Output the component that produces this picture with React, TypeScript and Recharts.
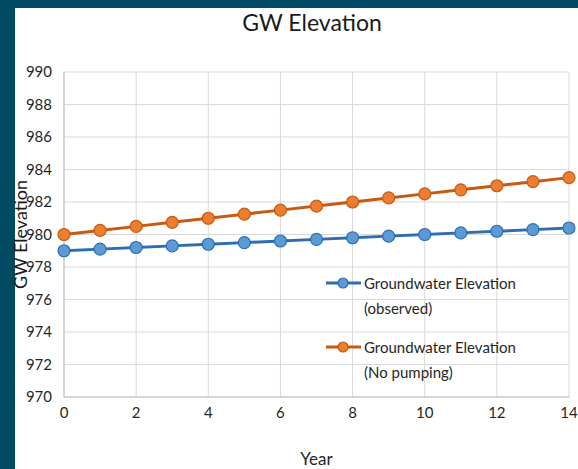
import {
  LineChart,
  Line,
  XAxis,
  YAxis,
  CartesianGrid,
  Label,
} from "recharts";

const years = [0, 1, 2, 3, 4, 5, 6, 7, 8, 9, 10, 11, 12, 13, 14];
const observed = [979.0, 979.1, 979.2, 979.3, 979.4, 979.5, 979.6, 979.7, 979.8, 979.9, 980.0, 980.1, 980.2, 980.3, 980.4];
const noPumping = [980.0, 980.25, 980.5, 980.75, 981.0, 981.25, 981.5, 981.75, 982.0, 982.25, 982.5, 982.75, 983.0, 983.25, 983.5];
const xTicks = [0, 2, 4, 6, 8, 10, 12, 14];
const yTicks = [970, 972, 974, 976, 978, 980, 982, 984, 986, 988, 990];

const data = years.map((year, i) => ({
  year,
  observed: observed[i],
  noPumping: noPumping[i],
}));

const FONT = "Lato, 'Open Sans', sans-serif";
const BLUE = { line: "#2e6eb0", fill: "#5b9bd5" };
const ORANGE = { line: "#c55a11", fill: "#ed7d31" };

// drawn over the plot like the Excel legend
function LegendBox() {
  const items = [
    { c: BLUE, lines: ["Groundwater Elevation", "(observed)"] },
    { c: ORANGE, lines: ["Groundwater Elevation", "(No pumping)"] },
  ];
  return (
    <div
      style={{
        position: "absolute",
        left: 326,
        top: 271,
        fontFamily: FONT,
        fontSize: 15,
        color: "#262626",
      }}
    >
      {items.map((it, i) => (
        <div key={i} style={{ display: "flex", alignItems: "flex-start", marginBottom: i === 0 ? 14 : 0 }}>
          <svg width={36} height={24} style={{ flexShrink: 0 }}>
            <line x1={0} y1={12} x2={35} y2={12} stroke={it.c.line} strokeWidth={3} />
            <circle cx={17} cy={12} r={5} fill={it.c.fill} stroke={it.c.line} strokeWidth={1.2} />
          </svg>
          <div style={{ lineHeight: "25px", marginLeft: 2 }}>
            {it.lines.map((l) => (
              <div key={l}>{l}</div>
            ))}
          </div>
        </div>
      ))}
    </div>
  );
}

export default function App() {
  return (
    <div
      style={{
        position: "absolute",
        left: 0,
        top: 0,
        width: 578,
        height: 469,
        background: "#004a63",
      }}
    >
      <div
        style={{
          position: "absolute",
          left: 15,
          top: 8,
          width: 563,
          height: 461,
          background: "#ffffff",
        }}
      />
      <div
        style={{
          position: "absolute",
          left: 0,
          top: 8,
          width: 624,
          textAlign: "center",
          fontFamily: FONT,
          fontSize: 23,
          color: "#1a1a1a",
        }}
      >
        GW Elevation
      </div>
      <div style={{ position: "absolute", left: 0, top: 0 }}>
        <LineChart
          width={578}
          height={469}
          data={data}
          margin={{ top: 72, right: 9, bottom: 2, left: 14 }}
        >
          <CartesianGrid stroke="#d9d9d9" strokeWidth={1} />
          <XAxis
            dataKey="year"
            type="number"
            domain={[0, 14]}
            ticks={xTicks}
            height={70}
            tickLine={false}
            tickSize={0}
            tickMargin={10}
            axisLine={{ stroke: "#bfbfbf" }}
            tick={{ fill: "#262626", fontSize: 15, fontFamily: FONT }}
          >
            <Label
              value="Year"
              position="insideBottom"
              offset={2}
              style={{ fill: "#262626", fontSize: 17, fontFamily: FONT }}
            />
          </XAxis>
          <YAxis
            type="number"
            domain={[970, 990]}
            ticks={yTicks}
            width={50}
            tickLine={false}
            tickSize={0}
            tickMargin={12}
            axisLine={{ stroke: "#bfbfbf" }}
            tick={{ fill: "#262626", fontSize: 15, fontFamily: FONT }}
          >
            <Label
              content={({ viewBox }: any) => {
                const cy = viewBox.y + viewBox.height / 2;
                return (
                  <text
                    x={20}
                    y={cy}
                    transform={`rotate(-90 20 ${cy})`}
                    textAnchor="middle"
                    dominantBaseline="central"
                    fill="#1a1a1a"
                    fontSize={18}
                    fontFamily={FONT}
                  >
                    GW Elevation
                  </text>
                );
              }}
            />
          </YAxis>
          <Line
            dataKey="observed"
            name="Groundwater Elevation (observed)"
            stroke={BLUE.line}
            strokeWidth={3}
            dot={{ r: 6, fill: BLUE.fill, stroke: BLUE.line, strokeWidth: 1.2 }}
            isAnimationActive={false}
          />
          <Line
            dataKey="noPumping"
            name="Groundwater Elevation (No pumping)"
            stroke={ORANGE.line}
            strokeWidth={3}
            dot={{ r: 6, fill: ORANGE.fill, stroke: ORANGE.line, strokeWidth: 1.2 }}
            isAnimationActive={false}
          />
        </LineChart>
      </div>
      <LegendBox />
    </div>
  );
}
